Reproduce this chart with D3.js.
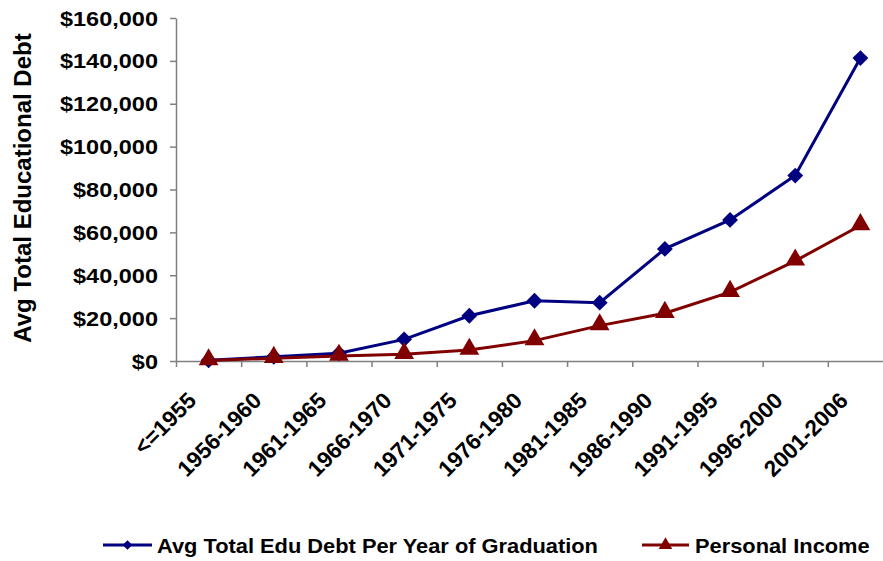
<!DOCTYPE html>
<html>
<head>
<meta charset="utf-8">
<script src="https://cdn.jsdelivr.net/npm/d3@7"></script>
<style>
  body { margin: 0; background: #fff; }
  svg text { font-family: "Liberation Sans", Arial, sans-serif; font-weight: bold; fill: #000; }
</style>
</head>
<body>
<svg width="883" height="561"></svg>
<script>
const categories = ["<=1955", "1956-1960", "1961-1965", "1966-1970", "1971-1975", "1976-1980",
  "1981-1985", "1986-1990", "1991-1995", "1996-2000", "2001-2006"];
const debt = [300, 2000, 3600, 10100, 21100, 28100, 27200, 52300, 65800, 86500, 141300];
const income = [200, 1300, 2300, 3100, 5100, 9500, 16500, 22300, 32100, 46700, 63200];
const yTicks = [0, 20000, 40000, 60000, 80000, 100000, 120000, 140000, 160000];
const seriesNames = ["Avg Total Edu Debt Per Year of Graduation", "Personal Income"];

const blue = "#000080", red = "#800000", axisColor = "#808080";
const sx = 1.12; // tick text looks horizontally stretched in the original

const svg = d3.select("svg");

let x = d3.scaleBand()
    .domain(categories)
    .range([176, 893])
    .padding(0);

let xEdge = d3.scaleLinear()
    .domain([0, categories.length])
    .range([176, 893]);

let y = d3.scaleLinear()
    .domain([0, 160000])
    .range([361, 18]);

// y axis
let yAxis = svg.append("g")
    .attr("transform", "translate(176,0)")
    .call(d3.axisLeft(y).tickValues(yTicks).tickSize(6).tickSizeOuter(0)
      .tickFormat(d3.format("$,")));
yAxis.select(".domain").attr("stroke", axisColor).attr("stroke-width", 1.5);
yAxis.selectAll(".tick line").attr("stroke", axisColor).attr("stroke-width", 1.5);
yAxis.selectAll(".tick text")
    .attr("font-size", 21)
    .attr("x", null)
    .attr("dy", null)
    .attr("transform", "translate(-18,7) scale(" + sx + ",1)");

// x axis
let xAxis = svg.append("g")
    .attr("transform", "translate(0,361)")
    .call(d3.axisBottom(xEdge).tickValues(d3.range(categories.length + 1)).tickSize(6).tickSizeOuter(0)
      .tickFormat(""));
xAxis.select(".domain").attr("stroke", axisColor).attr("stroke-width", 1.5);
xAxis.selectAll(".tick line").attr("stroke", axisColor).attr("stroke-width", 1.5);

svg.append("g").selectAll("text")
    .data(categories)
  .enter().append("text")
    .attr("font-size", 22.5)
    .attr("text-anchor", "end")
    .attr("transform", d => "translate(" + (x(d) + x.bandwidth() / 2 - 11) + ",402) rotate(-45)")
    .text(d => d);

// y title
svg.append("text")
    .attr("font-size", 24)
    .attr("text-anchor", "middle")
    .attr("transform", "translate(31,188) rotate(-90)")
    .text("Avg Total Educational Debt");

// lines
let line = d3.line()
    .x((d, i) => x(categories[i]) + x.bandwidth() / 2)
    .y(d => y(d));

svg.append("path").datum(debt)
    .attr("fill", "none").attr("stroke", blue).attr("stroke-width", 3)
    .attr("d", line);
svg.append("path").datum(income)
    .attr("fill", "none").attr("stroke", red).attr("stroke-width", 3)
    .attr("d", line);

const diamond = d3.symbol().type(d3.symbolDiamond2).size(160);
const triangle = d3.symbol().type(d3.symbolTriangle).size(170);

svg.append("g").selectAll("path")
    .data(debt)
  .enter().append("path")
    .attr("d", diamond)
    .attr("fill", blue)
    .attr("transform", (d, i) => "translate(" + (x(categories[i]) + x.bandwidth() / 2) + "," + y(d) + ")");

svg.append("g").selectAll("path")
    .data(income)
  .enter().append("path")
    .attr("d", triangle)
    .attr("fill", red)
    .attr("transform", (d, i) => "translate(" + (x(categories[i]) + x.bandwidth() / 2) + "," + (y(d) - 1) + ")");

// legend
const legend = [
  {name: seriesNames[0], color: blue, sym: d3.symbol().type(d3.symbolDiamond2).size(60), x0: 103, x1: 152, tx: 157},
  {name: seriesNames[1], color: red, sym: d3.symbol().type(d3.symbolTriangle).size(80), x0: 642, x1: 689, tx: 695}
];
let lg = svg.append("g").selectAll("g")
    .data(legend)
  .enter().append("g");
lg.append("line")
    .attr("x1", d => d.x0).attr("x2", d => d.x1)
    .attr("y1", 545).attr("y2", 545)
    .attr("stroke", d => d.color).attr("stroke-width", 3);
lg.append("path")
    .attr("d", d => d.sym())
    .attr("fill", d => d.color)
    .attr("transform", d => "translate(" + ((d.x0 + d.x1) / 2) + ",545)");
lg.append("text")
    .attr("font-size", 21)
    .attr("transform", d => "translate(" + d.tx + ",553) scale(1.04,1)")
    .text(d => d.name);
</script>
</body>
</html>
